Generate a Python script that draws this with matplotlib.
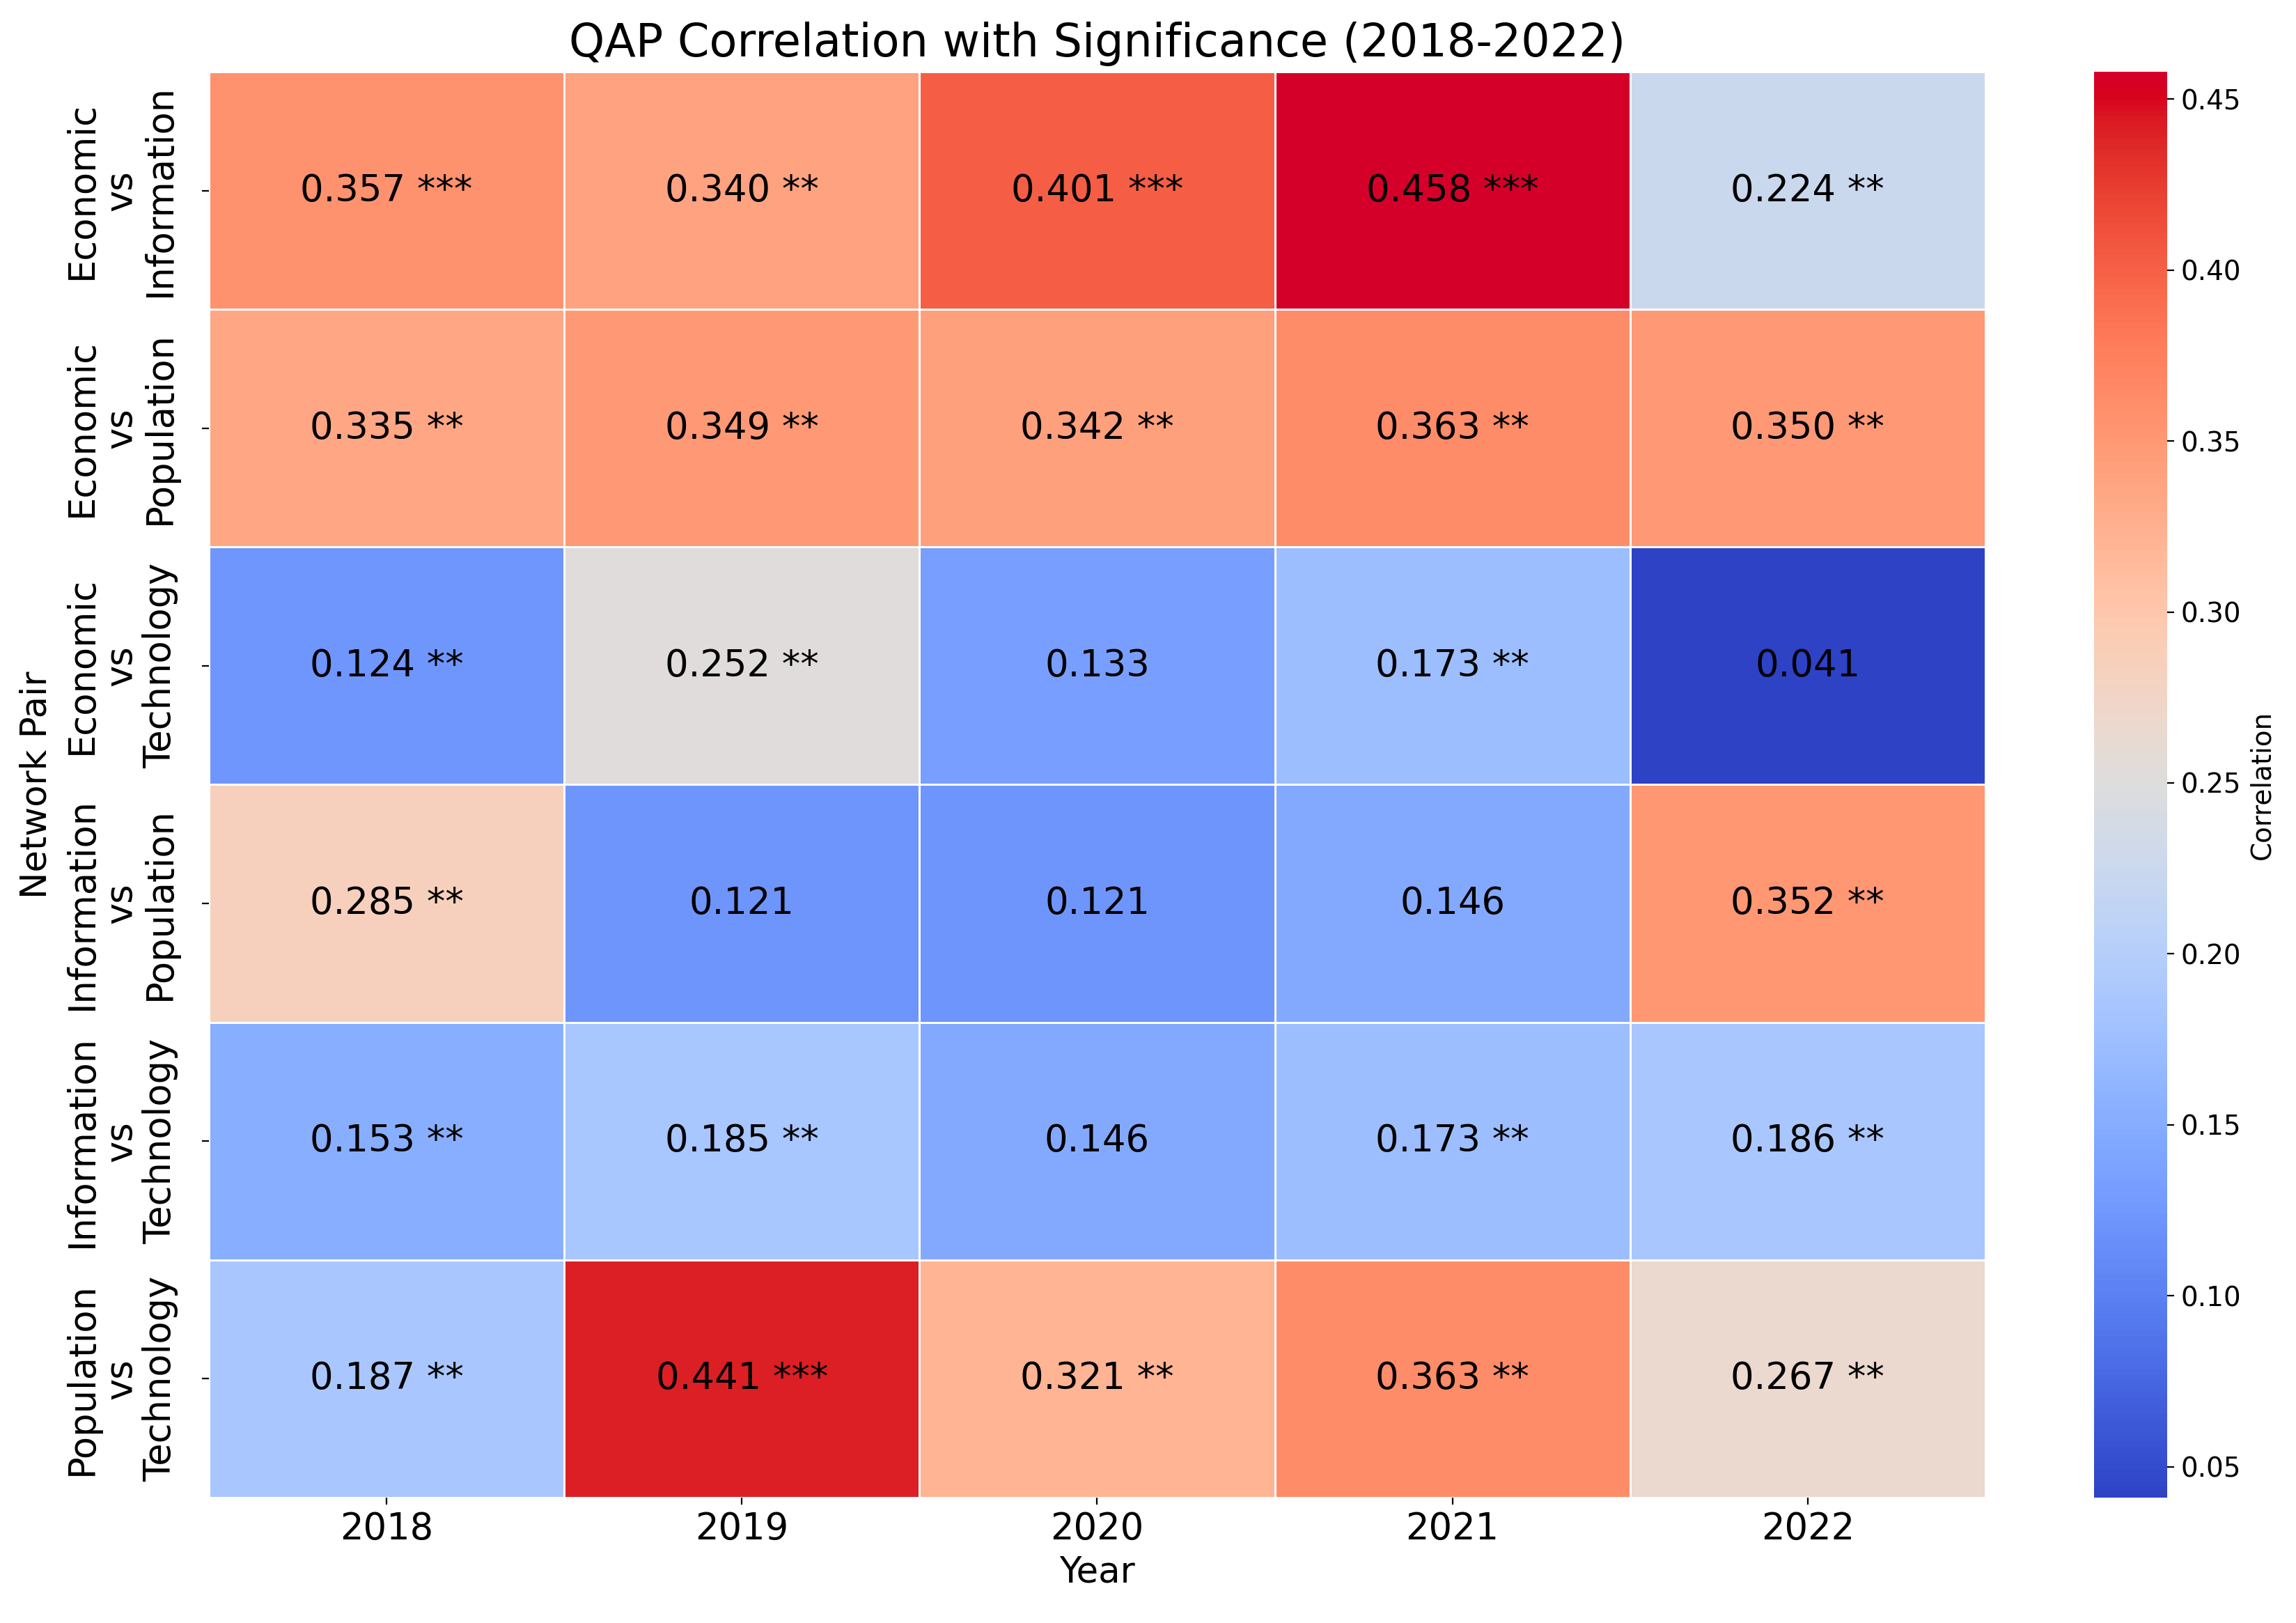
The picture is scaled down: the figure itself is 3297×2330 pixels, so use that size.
import numpy as np
import matplotlib
matplotlib.use("Agg")
import matplotlib.pyplot as plt
import matplotlib.colors as mcolors
import seaborn as sns

years = ["2018", "2019", "2020", "2021", "2022"]
pairs = ["Economic\nvs\nInformation", "Economic\nvs\nPopulation", "Economic\nvs\nTechnology",
         "Information\nvs\nPopulation", "Information\nvs\nTechnology", "Population\nvs\nTechnology"]
corr = np.array([
    [0.357, 0.340, 0.401, 0.458, 0.224],
    [0.335, 0.349, 0.342, 0.363, 0.350],
    [0.124, 0.252, 0.133, 0.173, 0.041],
    [0.285, 0.121, 0.121, 0.146, 0.352],
    [0.153, 0.185, 0.146, 0.173, 0.186],
    [0.187, 0.441, 0.321, 0.363, 0.267],
])
stars = [
    ["***", "**", "***", "***", "**"],
    ["**", "**", "**", "**", "**"],
    ["**", "**", "", "**", ""],
    ["**", "", "", "", "**"],
    ["**", "**", "", "**", "**"],
    ["**", "***", "**", "**", "**"],
]

labels = np.array([[f"{corr[i, j]:.3f} {stars[i][j]}".strip() for j in range(len(years))]
                   for i in range(len(pairs))])

# coolwarm with a little extra saturation / brightness (as in the reference)
base = plt.get_cmap("coolwarm")(np.linspace(0, 1, 256))[:, :3]
hsv = mcolors.rgb_to_hsv(base)
h, s, v = hsv[:, 0], hsv[:, 1], hsv[:, 2]
red = (h < 0.15) | (h > 0.85)
s_new = np.clip(s * np.where(red, 1.12, 1.10), 0, 1)
v_new = np.clip(v + np.where(red, 0.13, 0.03) * s, 0, 1)
cmap = mcolors.ListedColormap(mcolors.hsv_to_rgb(np.stack([h, s_new, v_new], axis=1)), name="cw2")

fig = plt.figure(figsize=(16.485, 11.65), dpi=200)
ax = fig.add_axes([0.0910, 0.0773, 0.7737, 0.8785])
cax = fig.add_axes([0.912, 0.0773, 0.0318, 0.8785])

sns.heatmap(corr, annot=labels, fmt="", cmap=cmap, linewidths=1, linecolor="white",
            ax=ax, cbar_ax=cax, annot_kws={"size": 19, "color": "black"},
            xticklabels=years, yticklabels=pairs)

ax.set_title("QAP Correlation with Significance (2018-2022)", fontsize=23.5, pad=8)
ax.set_xlabel("Year", fontsize=18.5)
ax.set_ylabel("Network Pair", fontsize=18.5, labelpad=5)
ax.set_xticklabels(years, fontsize=19, rotation=0)
ax.set_yticklabels(pairs, fontsize=19, rotation=90, va="center", ha="center",
                   multialignment="center", linespacing=1.1)
ax.tick_params(axis="y", pad=42)

cax.set_yticks([0.05, 0.10, 0.15, 0.20, 0.25, 0.30, 0.35, 0.40, 0.45])
cax.tick_params(labelsize=14)
cax.set_ylabel("Correlation", fontsize=14)

fig.savefig("out.png", dpi=200)
